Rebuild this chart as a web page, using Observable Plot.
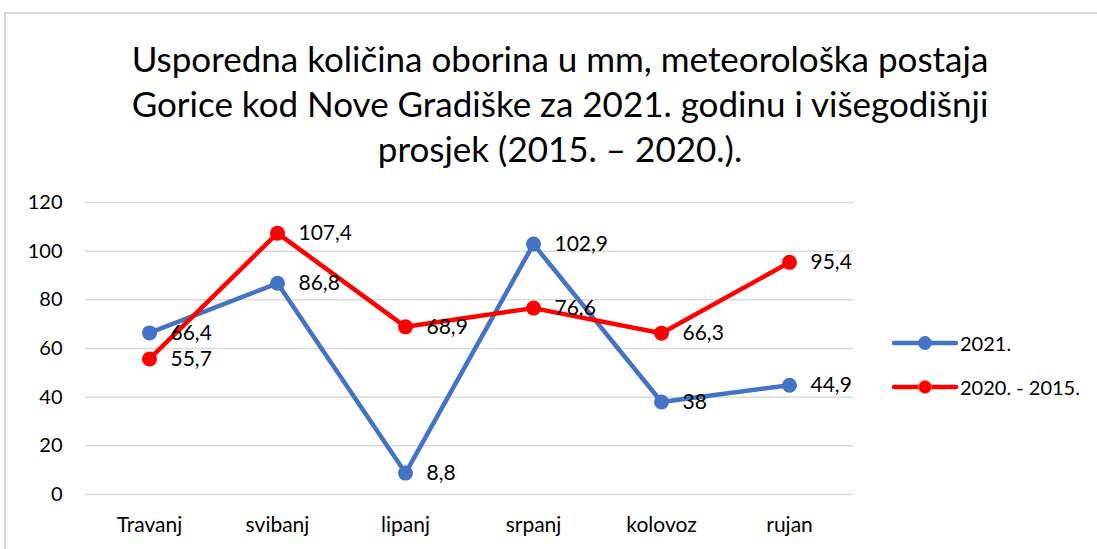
<!DOCTYPE html>
<html>
<head>
<meta charset="utf-8">
<script src="https://cdn.jsdelivr.net/npm/d3@7"></script>
<script src="https://cdn.jsdelivr.net/npm/@observablehq/plot@0.6"></script>
<style>
  html, body { margin: 0; padding: 0; background: #fff; }
  body { width: 1097px; height: 549px; position: relative; overflow: hidden; font-family: Lato, "Open Sans", sans-serif; }
  #frame { position: absolute; left: 4px; top: 12px; width: 1200px; height: 600px; border: 2px solid #d9d9d9; box-sizing: border-box; }
  #title { position: absolute; left: 0; top: 36px; width: 1120px; text-align: center; font-size: 35px; line-height: 45px; color: #000; }
  #chart { position: absolute; left: 0; top: 0; }
  #legend { position: absolute; left: 891px; top: 331px; font-size: 20px; color: #000; }
  .li { display: flex; align-items: center; height: 24px; margin-bottom: 20px; }
  .li svg { margin-right: 1px; }
</style>
</head>
<body>
<div id="frame"></div>
<div id="title">Usporedna količina oborina u mm, meteorološka postaja<br>Gorice kod Nove Gradiške za 2021. godinu i višegodišnji<br>prosjek (2015. – 2020.).</div>
<div id="chart"></div>
<div id="legend"></div>
<script>
const months = ["Travanj", "svibanj", "lipanj", "srpanj", "kolovoz", "rujan"];
const values2021 = [66.4, 86.8, 8.8, 102.9, 38, 44.9];
const valuesAvg = [55.7, 107.4, 68.9, 76.6, 66.3, 95.4];
const seriesNames = ["2021.", "2020. - 2015."];
const seriesColors = ["#4472C4", "#FF0000"];
const yTicks = [0, 20, 40, 60, 80, 100, 120];

const data = [];
months.forEach((m, i) => data.push({month: m, value: values2021[i], series: seriesNames[0]}));
months.forEach((m, i) => data.push({month: m, value: valuesAvg[i], series: seriesNames[1]}));

const fmt = v => String(v).replace(".", ",");

const chart = Plot.plot({
  width: 1097,
  height: 549,
  marginTop: 202,
  marginBottom: 55,
  marginLeft: 85,
  marginRight: 244,
  style: {fontFamily: "Lato, 'Open Sans', sans-serif", fontSize: "20px", color: "#000", background: "transparent", overflow: "visible"},
  x: {domain: months, padding: 0.5, label: null, tickSize: 0, tickPadding: 22},
  y: {domain: [0, 120], ticks: yTicks, label: null, tickSize: 0, tickPadding: 23},
  color: {domain: seriesNames, range: seriesColors},
  marks: [
    Plot.ruleY(yTicks, {stroke: "#d9d9d9", strokeWidth: 1.5}),
    Plot.line(data, {x: "month", y: "value", z: "series", stroke: "series", strokeWidth: 4.5, strokeLinejoin: "round"}),
    Plot.dot(data, {x: "month", y: "value", fill: "series", r: 7.5}),
    Plot.text(data, {x: "month", y: "value", text: d => fmt(d.value), textAnchor: "start", dx: 21, fontSize: 21, fill: "#000"}),
    Plot.axisX({tickSize: 0, tickPadding: 23, fontSize: 21}),
    Plot.axisY({ticks: yTicks, tickSize: 0, tickPadding: 23, fontSize: 20})
  ]
});
document.getElementById("chart").appendChild(chart);

const legend = document.getElementById("legend");
seriesNames.forEach((name, i) => {
  const row = document.createElement("div");
  row.className = "li";
  const stroke = i === 1 ? "#ED7D31" : seriesColors[i];
  row.innerHTML = `<svg width="68" height="20"><line x1="3" y1="10" x2="65" y2="10" stroke="${seriesColors[i]}" stroke-width="4.5" stroke-linecap="round"/><circle cx="34" cy="10" r="6.5" fill="${seriesColors[i]}" stroke="${stroke}" stroke-width="1"/></svg><span>${name}</span>`;
  legend.appendChild(row);
});
</script>
</body>
</html>
